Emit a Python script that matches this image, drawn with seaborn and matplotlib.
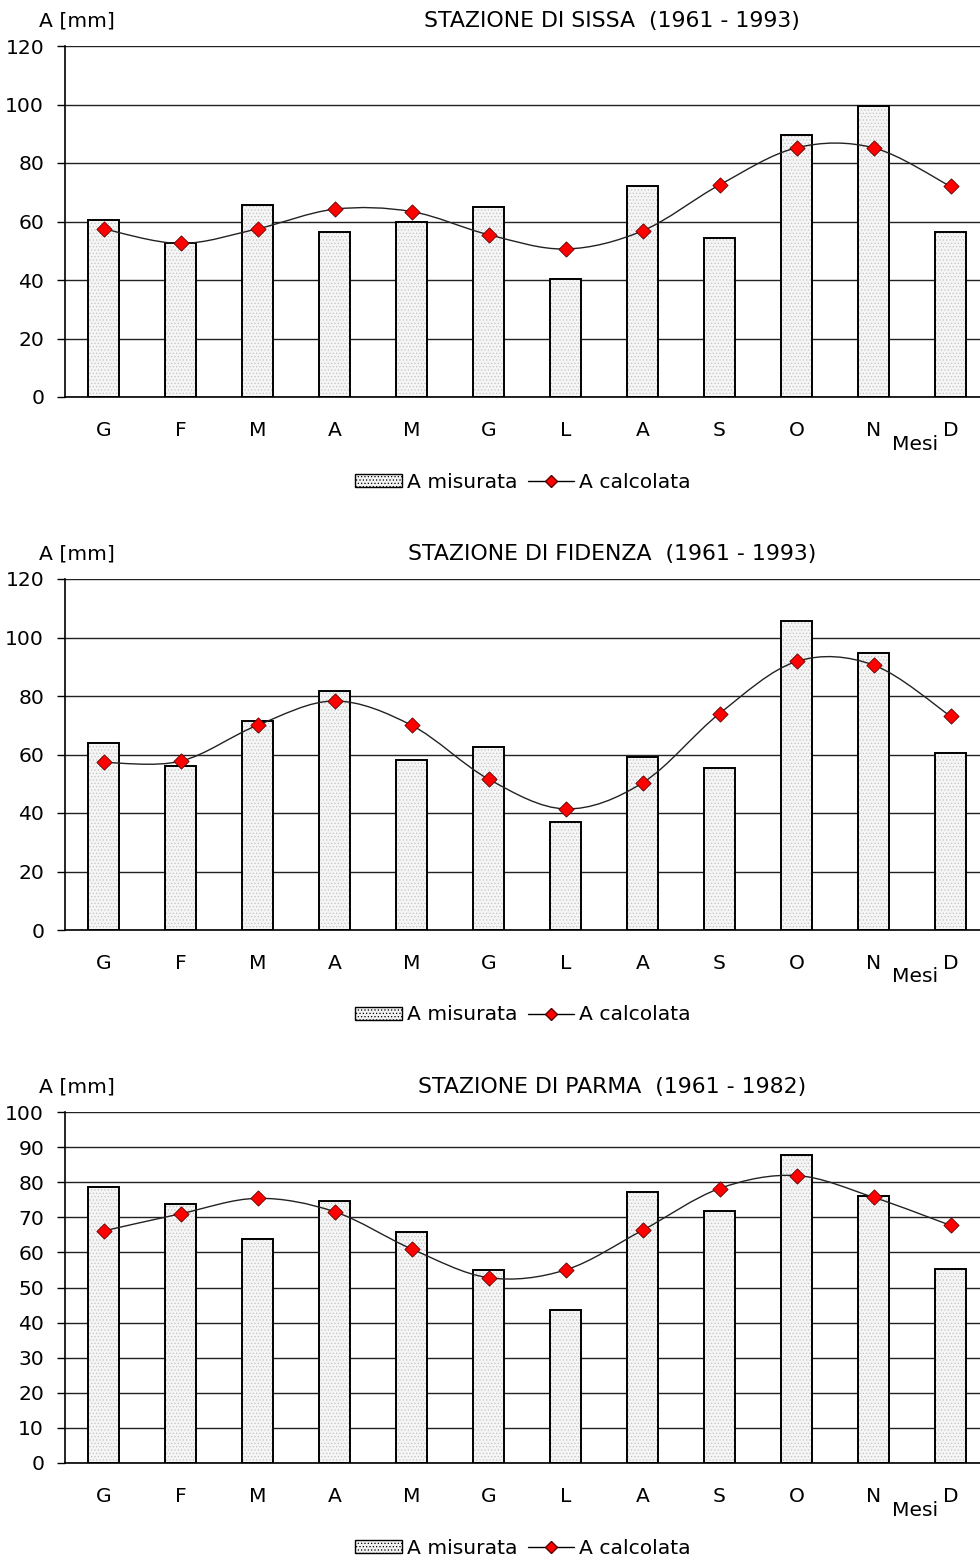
import numpy as np
import matplotlib
matplotlib.use("Agg")
import matplotlib.pyplot as plt
import seaborn as sns
from matplotlib.path import Path
from matplotlib.patches import PathPatch, Patch
from matplotlib.lines import Line2D

# ---------------- dati ----------------
mesi = ["G", "F", "M", "A", "M", "G", "L", "A", "S", "O", "N", "D"]

titoli = [
    "STAZIONE DI SISSA  (1961 - 1993)",
    "STAZIONE DI FIDENZA  (1961 - 1993)",
    "STAZIONE DI PARMA  (1961 - 1982)",
]

sissa_mis = [60.5, 52.5, 65.5, 56.5, 60, 65, 40.5, 72, 54.5, 89.5, 99.5, 56.5]
sissa_calc = [57.5, 52.5, 57.5, 64.2, 63.4, 55.5, 50.6, 56.8, 72.5, 85.2, 85.2, 72]

fidenza_mis = [63.8, 56.1, 71.6, 81.8, 58.2, 62.5, 37, 59.2, 55.4, 105.7, 94.8, 60.6]
fidenza_calc = [57.3, 57.7, 70, 78.3, 70, 51.6, 41.4, 50.3, 74, 91.8, 90.6, 73.1]

parma_mis = [78.6, 73.9, 63.7, 74.6, 65.8, 55.1, 43.5, 77.1, 71.7, 87.7, 76.1, 55.3]
parma_calc = [66.1, 71, 75.4, 71.6, 61, 52.8, 55, 66.3, 78.2, 81.9, 75.7, 67.7]

misurate = [sissa_mis, fidenza_mis, parma_mis]
calcolate = [sissa_calc, fidenza_calc, parma_calc]
y_max = [120, 120, 100]
y_step = [20, 20, 10]

# ---------------- stile ----------------
sns.set_theme(style="white")
plt.rcParams["font.family"] = ["DejaVu Sans"]
plt.rcParams["text.color"] = "black"
plt.rcParams["hatch.linewidth"] = 0.5

W, H = 980, 1560
fig = plt.figure(figsize=(W / 100, H / 100), dpi=100)

FS = 14.6
tops = [46, 579, 1112]
ax_h = 351
left, right = 65, 989


def smooth_path(xs, ys):
    # curva liscia tipo Excel (Catmull-Rom -> Bezier)
    pts = np.column_stack([xs, ys]).astype(float)
    p = np.vstack([pts[0], pts, pts[-1]])
    verts = [tuple(pts[0])]
    codes = [Path.MOVETO]
    for i in range(1, len(p) - 2):
        c1 = p[i] + (p[i + 1] - p[i - 1]) / 6
        c2 = p[i + 1] - (p[i + 2] - p[i]) / 6
        verts += [tuple(c1), tuple(c2), tuple(p[i + 1])]
        codes += [Path.CURVE4] * 3
    return Path(verts, codes)


x = np.arange(len(mesi))

for k in range(3):
    top = tops[k]
    ax = fig.add_axes([left / W, 1 - (top + ax_h) / H, (right - left) / W, ax_h / H])

    # barre con retino
    sns.barplot(x=x, y=misurate[k], ax=ax, width=0.4, color="#f5f5f5",
                edgecolor="#c4c4c4", linewidth=0, hatch=".....", zorder=2)
    sns.barplot(x=x, y=misurate[k], ax=ax, width=0.4, fill=False,
                edgecolor="black", linewidth=1.4, zorder=3)

    # linea calcolata
    ax.add_patch(PathPatch(smooth_path(x, calcolate[k]), facecolor="none",
                           edgecolor="#222222", linewidth=1.0, zorder=4))
    sns.scatterplot(x=x, y=calcolate[k], ax=ax, marker="D", s=60,
                    color="#ff0000", edgecolor="#600000", linewidth=0.6, zorder=5)

    ax.set_xlim(-0.5, 11.5)
    ax.set_ylim(0, y_max[k])
    ax.set_yticks(np.arange(0, y_max[k] + 1, y_step[k]))
    ax.yaxis.grid(True, color="#222222", linewidth=1.0, zorder=1)
    ax.set_axisbelow(True)

    ax.set_xticks(x)
    ax.set_xticklabels(mesi)
    ax.set_xticks(np.arange(-0.5, 12, 1), minor=True)
    ax.tick_params(axis="x", which="major", length=0, pad=17, labelsize=FS, colors="black")
    ax.tick_params(axis="x", which="minor", length=6, width=1, direction="out", color="black")
    ax.tick_params(axis="y", length=6, width=1, direction="out", pad=9,
                   labelsize=FS, colors="black", left=True)
    ax.set_xlabel("")
    ax.set_ylabel("")

    for s in ["top", "right"]:
        ax.spines[s].set_visible(False)
    for s in ["left", "bottom"]:
        ax.spines[s].set_color("black")
        ax.spines[s].set_linewidth(1.2)

    # testi
    fig.text(77 / W, 1 - (top - 25) / H, "A [mm]", ha="center", va="center", fontsize=FS)
    fig.text(612 / W, 1 - (top - 25) / H, titoli[k], ha="center", va="center", fontsize=15.8)
    fig.text(915 / W, 1 - (top + 398) / H, "Mesi", ha="center", va="center", fontsize=FS)

    handles = [
        Patch(facecolor="#f3f3f3", edgecolor="black", hatch=".....", linewidth=1),
        Line2D([0], [0], color="black", linewidth=1, marker="D", markersize=6,
               markerfacecolor="#ff0000", markeredgecolor="#600000"),
    ]
    fig.legend(handles, ["A misurata", "A calcolata"], loc="center",
               bbox_to_anchor=(523 / W, 1 - (top + 436) / H), ncol=2, frameon=False,
               fontsize=FS, handlelength=2.3, handleheight=0.6, handletextpad=0.25,
               columnspacing=0.5)

fig.savefig("out.png", dpi=100)
